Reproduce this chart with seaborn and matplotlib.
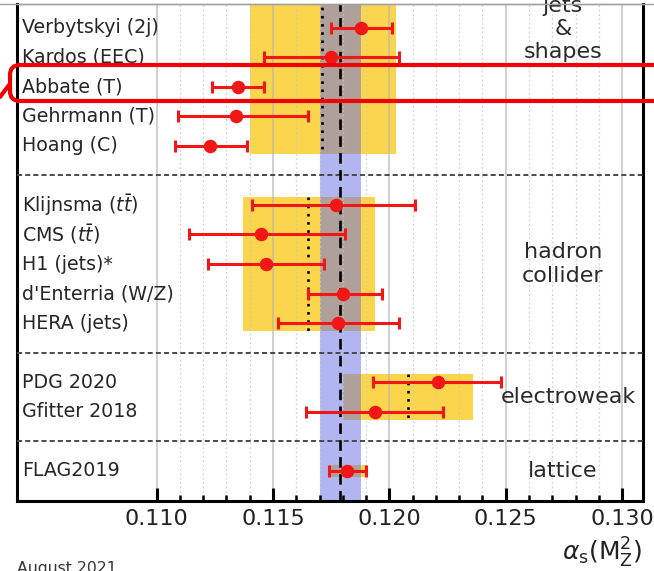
import numpy as np
import matplotlib
matplotlib.use("Agg")
import matplotlib.pyplot as plt
import matplotlib.patches as mpatches
import matplotlib.lines as mlines
import matplotlib.transforms as mtransforms
import seaborn as sns

# ---------------- data ----------------
labels = ["Verbytskyi (2j)", "Kardos (EEC)", "Abbate (T)", "Gehrmann (T)", "Hoang (C)",
          r"Klijnsma ($t\bar{t}$)", r"CMS ($t\bar{t}$)", "H1 (jets)*", "d'Enterria (W/Z)", "HERA (jets)",
          "PDG 2020", "Gfitter 2018",
          "FLAG2019"]
values = [0.1188, 0.1175, 0.1135, 0.1134, 0.1123,
          0.1177, 0.1145, 0.1147, 0.1180, 0.1178,
          0.1221, 0.1194,
          0.1182]
err_lo = [0.0013, 0.0029, 0.0011, 0.0025, 0.0015,
          0.0036, 0.0031, 0.0025, 0.0015, 0.0026,
          0.0028, 0.0030,
          0.0008]
err_hi = [0.0013, 0.0029, 0.0011, 0.0031, 0.0016,
          0.0034, 0.0036, 0.0025, 0.0017, 0.0026,
          0.0027, 0.0029,
          0.0008]

sections = ["jets\n&\nshapes", "hadron\ncollider", "electroweak", "lattice"]
section_sizes = [5, 5, 2, 1]
section_avg = [0.1171, 0.1165, 0.1208, 0.1182]
section_lo = [0.1140, 0.1137, 0.1180, 0.1174]
section_hi = [0.1203, 0.1194, 0.1236, 0.1190]

world_avg = 0.1179
world_err = 0.0009

xticks = [0.110, 0.115, 0.120, 0.125, 0.130]
xtick_labels = ["0.110", "0.115", "0.120", "0.125", "0.130"]
date_text = "August 2021"

# ---------------- layout ----------------
sns.set_theme(style="white")
plt.rcParams["font.family"] = ["DejaVu Sans"]
plt.rcParams["mathtext.fontset"] = "dejavusans"

W, H = 654, 571
fig = plt.figure(figsize=(W / 100, H / 100), dpi=100)
fig.patch.set_facecolor("white")
ax = fig.add_axes([17 / W, 1 - 501 / H, 626 / W, 497 / H])
ax.set_facecolor("white")

# compute row positions (one blank row between sections)
rows = []
sec_start, sec_end = [], []
pos = 0
for n in section_sizes:
    sec_start.append(pos)
    for i in range(n):
        rows.append(pos + i)
    sec_end.append(pos + n - 1)
    pos += n + 1
seps = [e + 1 for e in sec_end[:-1]]

ax.set_xlim(0.104, 0.1309)
ax.set_ylim(16.03, -0.81)

red = "#f21616"
yellow = "#fbd64c"
blue = (100 / 255, 110 / 255, 232 / 255)

# section bands
for k in range(len(sections)):
    n = section_sizes[k]
    pad = 0.27 if n > 1 else 0.2
    top = sec_start[k] - pad
    if k == 0:
        top = -3  # section continues above the visible area
    bot = sec_end[k] + pad
    ax.add_patch(mpatches.Rectangle((section_lo[k], top), section_hi[k] - section_lo[k], bot - top,
                                    facecolor=yellow, edgecolor="none", zorder=1))
    if n > 1:
        ax.plot([section_avg[k], section_avg[k]], [top, bot], color="black", lw=1.9,
                ls=(0, (1, 2.1)), zorder=4, solid_capstyle="butt")

# world average band
ax.axvspan(world_avg - world_err, world_avg + world_err, color=blue, alpha=0.5, lw=0, zorder=1.5)
ax.axvline(world_avg, color="black", lw=1.9, ls=(0, (4, 2.4)), zorder=4)

# separators
for s in seps:
    ax.axhline(s, color="#4a4a4a", lw=1.4, ls=(0, (2.6, 1.6)), zorder=3)

# error bars and markers
ax.errorbar(values, rows, xerr=[err_lo, err_hi], fmt="none", ecolor=red, elinewidth=2.2,
            capsize=4.3, capthick=2.2, zorder=5)
sns.scatterplot(x=values, y=rows, ax=ax, s=95, color=red, edgecolor=red, linewidth=0,
                zorder=6, legend=False)

# row labels
tr = mtransforms.blended_transform_factory(ax.transAxes, ax.transData)
for lab, r in zip(labels, rows):
    ax.text(0.008, r, lab, transform=tr, ha="left", va="center", fontsize=13.7, color="#262626",
            zorder=7)

# section labels
for k, name in enumerate(sections):
    yc = (sec_start[k] + sec_end[k]) / 2
    if k == 0:
        yc = 0.03
    xa = 0.880 if name == "electroweak" else 0.872
    ax.text(xa, yc, name, transform=tr, ha="center", va="center", fontsize=16, color="#2a2a2a",
            linespacing=1.2, zorder=7)

# ticks / grid
ax.set_xticks(xticks)
ax.set_xticklabels(xtick_labels, fontsize=16, color="#222222")
ax.set_xticks(np.round(np.arange(0.110, 0.1301, 0.001), 4), minor=True)
ax.set_yticks([])
ax.tick_params(axis="x", which="major", direction="in", length=9.4, width=2.2, color="black",
               pad=6, bottom=True)
ax.tick_params(axis="x", which="minor", direction="in", length=4.3, width=1.8, color="black",
               bottom=True)
ax.set_axisbelow(False)
ax.grid(True, which="major", axis="x", color="#b5b5b5", lw=1.1, alpha=0.8)
ax.grid(True, which="minor", axis="x", color="#c8c8c8", lw=0.9, ls=(0, (1.5, 2)), alpha=0.8)

for side in ["left", "right", "bottom"]:
    ax.spines[side].set_color("black")
    ax.spines[side].set_linewidth(2.2)
ax.spines["top"].set_color("#a0a0a0")
ax.spines["top"].set_linewidth(1.0)

# axis label
fig.text(642 / W, 1 - 553 / H, r"$\alpha_{\rm s}(\rm M_Z^2)$", ha="right", va="center",
         fontsize=18, color="#222222")
fig.text(17 / W, 1 - 561 / H, date_text, ha="left", va="top", fontsize=11.3, color="#333333")

# top crop line
fig.add_artist(mlines.Line2D([0, 1], [1 - 4 / H, 1 - 4 / H], transform=fig.transFigure,
                             color="#a0a0a0", lw=1.0))

# red highlight box (pixel coordinates)
idt = mtransforms.IdentityTransform()
box = mpatches.FancyBboxPatch((10, H - 101), 720, 36,
                              boxstyle="round,pad=0,rounding_size=10",
                              transform=idt, facecolor="none", edgecolor="#f00000", lw=3,
                              clip_on=False, zorder=20)
fig.add_artist(box)
fig.add_artist(mlines.Line2D([0, 9], [H - 97, H - 85], transform=idt, color="#f00000", lw=3))

fig.savefig("out.png", dpi=100)
